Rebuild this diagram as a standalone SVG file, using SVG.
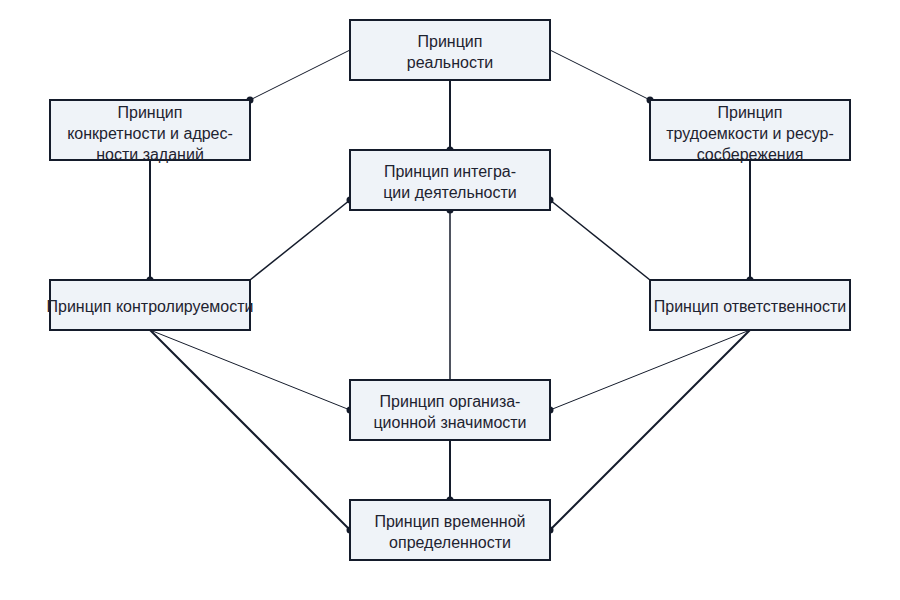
<svg xmlns="http://www.w3.org/2000/svg" width="900" height="600" viewBox="0 0 900 600">
<style>
.n rect{fill:#eff3f8;stroke:#141b2b;stroke-width:2}
.n text{font-family:"Liberation Sans",Arial,sans-serif;font-size:16px;fill:#1e2330;text-anchor:middle}
.c line{stroke:#141b2b}
.t{stroke-width:1}.m{stroke-width:1.5}.k{stroke-width:2}
.c circle{fill:#141b2b}
</style>
<rect width="900" height="600" fill="#fff"/>
<g id="connectors" class="c">
<line class="t" x1="350" y1="50" x2="250" y2="100"/><circle cx="250" cy="100" r="3.5"/>
<line class="t" x1="550" y1="50" x2="650" y2="100"/><circle cx="650" cy="100" r="3.5"/>
<line class="k" x1="450" y1="80" x2="450" y2="150"/><circle cx="450" cy="150" r="3.5"/>
<line class="k" x1="150" y1="160" x2="150" y2="280"/><circle cx="150" cy="280" r="3.5"/>
<line class="k" x1="750" y1="160" x2="750" y2="280"/><circle cx="750" cy="280" r="3.5"/>
<line class="m" x1="250" y1="280" x2="350" y2="200"/><circle cx="350" cy="200" r="3.5"/>
<line class="m" x1="650" y1="280" x2="550" y2="200"/><circle cx="550" cy="200" r="3.5"/>
<line class="m" x1="450" y1="210" x2="450" y2="380"/><circle cx="450" cy="210" r="3.5"/>
<line class="t" x1="150" y1="330" x2="350" y2="410"/><circle cx="350" cy="410" r="3.5"/>
<line class="k" x1="150" y1="330" x2="350" y2="530"/><circle cx="350" cy="530" r="3.5"/>
<line class="t" x1="750" y1="330" x2="550" y2="410"/><circle cx="550" cy="410" r="3.5"/>
<line class="k" x1="750" y1="330" x2="550" y2="530"/><circle cx="550" cy="530" r="3.5"/>
<line class="k" x1="450" y1="440" x2="450" y2="500"/><circle cx="450" cy="500" r="3.5"/>
</g>
<g id="reality" class="n"><rect x="350" y="20" width="200" height="60"/><text x="450" y="47">Принцип</text><text x="450" y="68">реальности</text></g>
<g id="concrete" class="n"><rect x="50" y="100" width="200" height="60"/><text x="150" y="118">Принцип</text><text x="150" y="139">конкретности и адрес-</text><text x="150" y="160">ности заданий</text></g>
<g id="labor" class="n"><rect x="650" y="100" width="200" height="60"/><text x="750" y="118">Принцип</text><text x="750" y="139">трудоемкости и ресур-</text><text x="750" y="160">сосбережения</text></g>
<g id="integration" class="n"><rect x="350" y="150" width="200" height="60"/><text x="450" y="177">Принцип интегра-</text><text x="450" y="198">ции деятельности</text></g>
<g id="control" class="n"><rect x="50" y="280" width="200" height="50"/><text x="150" y="312">Принцип контролируемости</text></g>
<g id="responsibility" class="n"><rect x="650" y="280" width="200" height="50"/><text x="750" y="312">Принцип ответственности</text></g>
<g id="organization" class="n"><rect x="350" y="380" width="200" height="60"/><text x="450" y="407">Принцип организа-</text><text x="450" y="428">ционной значимости</text></g>
<g id="time" class="n"><rect x="350" y="500" width="200" height="60"/><text x="450" y="527">Принцип временной</text><text x="450" y="548">определенности</text></g>
</svg>
